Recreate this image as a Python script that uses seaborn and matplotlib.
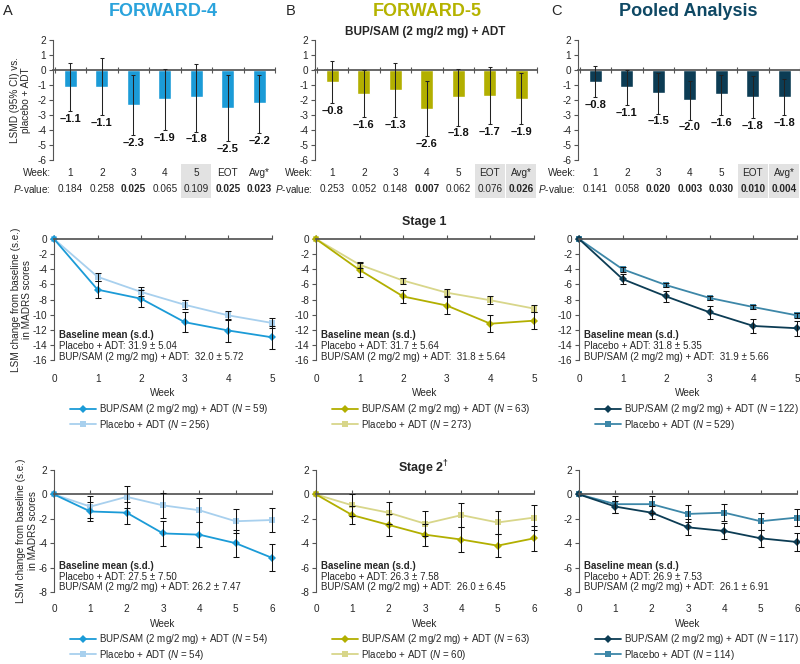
import matplotlib
matplotlib.use('Agg')
import matplotlib.pyplot as plt
import matplotlib.transforms as mtransforms
from matplotlib.patches import Rectangle
from matplotlib.lines import Line2D
import numpy as np
import pandas as pd
import seaborn as sns

sns.set_theme(style='ticks')
plt.rcParams['font.family'] = ['Liberation Sans', 'DejaVu Sans']
plt.rcParams['axes.unicode_minus'] = False
plt.rcParams['mathtext.fontset'] = 'custom'
plt.rcParams['mathtext.rm'] = 'Liberation Sans'
plt.rcParams['mathtext.it'] = 'Liberation Sans:italic'
plt.rcParams['mathtext.bf'] = 'Liberation Sans:bold'

# ---- data ----
bar_labels = ['1', '2', '3', '4', '5', 'EOT', 'Avg*']

f4_lsmd = [-1.1, -1.1, -2.3, -1.9, -1.8, -2.5, -2.2]
f4_lo = [-2.7, -3.0, -4.3, -4.0, -4.1, -4.7, -4.2]
f4_hi = [0.5, 0.8, -0.3, 0.1, 0.4, -0.3, -0.3]
f4_p = ['0.184', '0.258', '0.025', '0.065', '0.109', '0.025', '0.023']
f4_bold = [False, False, True, False, False, True, True]
f4_shade = [4]

f5_lsmd = [-0.8, -1.6, -1.3, -2.6, -1.8, -1.7, -1.9]
f5_lo = [-2.2, -3.1, -3.1, -4.4, -3.7, -3.6, -3.6]
f5_hi = [0.6, 0.0, 0.5, -0.7, 0.1, 0.2, -0.2]
f5_p = ['0.253', '0.052', '0.148', '0.007', '0.062', '0.076', '0.026']
f5_bold = [False, False, False, True, False, False, True]
f5_shade = [5, 6]

pool_lsmd = [-0.8, -1.1, -1.5, -2.0, -1.6, -1.8, -1.8]
pool_lo = [-1.8, -2.3, -2.9, -3.3, -3.0, -3.2, -3.0]
pool_hi = [0.3, 0.0, -0.2, -0.7, -0.3, -0.4, -0.6]
pool_p = ['0.141', '0.058', '0.020', '0.003', '0.030', '0.010', '0.004']
pool_bold = [False, False, True, True, True, True, True]
pool_shade = [5, 6]

s1_weeks = [0, 1, 2, 3, 4, 5]
s2_weeks = [0, 1, 2, 3, 4, 5, 6]

f4_s1_bup = [0, -6.7, -7.9, -11.0, -12.1, -13.0]
f4_s1_bup_se = [0, 1.1, 1.1, 1.3, 1.5, 1.5]
f4_s1_pbo = [0, -5.0, -7.0, -8.7, -10.1, -11.1]
f4_s1_pbo_se = [0, 0.5, 0.6, 0.6, 0.6, 0.7]

f5_s1_bup = [0, -4.1, -7.6, -8.8, -11.2, -10.8]
f5_s1_bup_se = [0, 0.9, 0.9, 1.1, 1.1, 1.1]
f5_s1_pbo = [0, -3.4, -5.5, -7.1, -8.1, -9.2]
f5_s1_pbo_se = [0, 0.4, 0.4, 0.5, 0.5, 0.5]

pool_s1_bup = [0, -5.3, -7.6, -9.7, -11.5, -11.8]
pool_s1_bup_se = [0, 0.7, 0.7, 0.9, 0.9, 1.0]
pool_s1_pbo = [0, -4.0, -6.1, -7.8, -9.0, -10.1]
pool_s1_pbo_se = [0, 0.3, 0.3, 0.3, 0.3, 0.3]

f4_s2_bup = [0, -1.4, -1.5, -3.2, -3.3, -4.0, -5.2]
f4_s2_bup_se = [0, 0.8, 0.9, 1.0, 1.0, 1.1, 1.1]
f4_s2_pbo = [0, -1.0, -0.2, -0.9, -1.3, -2.2, -2.1]
f4_s2_pbo_se = [0, 0.9, 0.9, 1.0, 1.0, 1.0, 1.0]

f5_s2_bup = [0, -1.7, -2.5, -3.3, -3.7, -4.2, -3.6]
f5_s2_bup_se = [0, 0.75, 0.9, 0.9, 1.0, 0.95, 1.0]
f5_s2_pbo = [0, -0.9, -1.5, -2.4, -1.7, -2.3, -1.9]
f5_s2_pbo_se = [0, 0.9, 0.9, 1.0, 1.0, 0.95, 1.0]

pool_s2_bup = [0, -1.0, -1.5, -2.7, -3.0, -3.6, -3.9]
pool_s2_bup_se = [0, 0.5, 0.55, 0.65, 0.65, 0.7, 0.7]
pool_s2_pbo = [0, -0.8, -0.8, -1.6, -1.5, -2.2, -1.9]
pool_s2_pbo_se = [0, 0.7, 0.7, 0.7, 0.7, 0.7, 0.7]

n_s1 = [(59, 256), (63, 273), (122, 529)]
n_s2 = [(54, 54), (63, 60), (117, 114)]

base_s1 = [('31.9 ± 5.04', ' 32.0 ± 5.72'), ('31.7 ± 5.64', ' 31.8 ± 5.64'), ('31.8 ± 5.35', ' 31.9 ± 5.66')]
base_s2 = [('27.5 ± 7.50', '26.2 ± 7.47'), ('26.3 ± 7.58', ' 26.0 ± 6.45'), ('26.9 ± 7.53', ' 26.1 ± 6.91')]

main_colors = ['#1b9bd7', '#b2af00', '#0c3c54']
light_colors = ['#a8d0ee', '#d8d68a', '#3d87a8']
title_colors = ['#2aa3dc', '#b5b300', '#0e4864']
titles = ['FORWARD-4', 'FORWARD-5', 'Pooled Analysis']
letters = ['A', 'B', 'C']

W, H = 800, 664
fig = plt.figure(figsize=(W / 100, H / 100), dpi=100)


def px_axes(left, top, width, height):
    return fig.add_axes([left / W, 1 - (top + height) / H, width / W, height / H])


def fig_text(x, y, s, **kw):
    fig.text(x / W, 1 - y / H, s, **kw)


FS = 7.2
FS_SMALL = 7.0
lefts = [53, 315, 578]

# ---- top bar panels ----
bar_sets = [
    (f4_lsmd, f4_lo, f4_hi, f4_p, f4_bold, f4_shade),
    (f5_lsmd, f5_lo, f5_hi, f5_p, f5_bold, f5_shade),
    (pool_lsmd, pool_lo, pool_hi, pool_p, pool_bold, pool_shade),
]
for k, (vals, lo, hi, pv, bold, shade) in enumerate(bar_sets):
    ax = px_axes(lefts[k], 40, 222, 120)
    sns.barplot(x=bar_labels, y=vals, color=main_colors[k], width=0.42,
                saturation=1, errorbar=None, ax=ax, zorder=2)
    xs = np.arange(len(vals))
    vals_a = np.array(vals)
    ax.errorbar(xs, vals_a, yerr=[vals_a - np.array(lo), np.array(hi) - vals_a],
                fmt='none', ecolor='#222222', elinewidth=0.75, capsize=1.5,
                capthick=0.75, zorder=3)
    for i, v in enumerate(vals):
        ax.text(i, lo[i] - 0.2, '\u2013' + f'{abs(v):.1f}', ha='center', va='top',
                fontsize=8, fontweight='bold', color='#111111')
    ax.set_ylim(-6, 2)
    ax.set_xlim(-0.55, 6.5)
    ax.set_yticks(range(-6, 3))
    ax.set_xticks(np.arange(-0.5, 7, 1))
    ax.spines['top'].set_position(('data', 0))
    ax.spines['top'].set_color('#555555')
    ax.spines['bottom'].set_visible(False)
    ax.spines['right'].set_visible(False)
    ax.spines['left'].set_color('#555555')
    ax.spines['left'].set_linewidth(0.8)
    ax.tick_params(axis='x', top=True, bottom=False, labelbottom=False, labeltop=False,
                   direction='inout', length=5, width=0.8, color='#555555')
    ax.tick_params(axis='y', labelsize=FS, length=3, width=0.8, pad=2, color='#555555')
    ax.set_xlabel('')
    trans = mtransforms.blended_transform_factory(ax.transData, ax.transAxes)
    for i in range(len(vals)):
        if i in shade:
            ax.add_patch(Rectangle((i - 0.47, -0.32), 0.94, 0.29, transform=trans,
                                   facecolor='#e2e2e2', edgecolor='none',
                                   clip_on=False, zorder=0))
        ax.text(i, -0.11, bar_labels[i], transform=trans, ha='center', va='center',
                fontsize=FS)
        ax.text(i, -0.245, pv[i], transform=trans, ha='center', va='center',
                fontsize=FS, fontweight='bold' if bold[i] else 'normal')
    ax.text(-0.01, -0.11, 'Week:', transform=ax.transAxes, ha='right', va='center',
            fontsize=FS)
    ax.text(-0.01, -0.245, '$P$-value:', transform=ax.transAxes, ha='right',
            va='center', fontsize=FS)
    if k == 0:
        ax.set_ylabel('LSMD (95% CI) vs.\nplacebo + ADT', fontsize=FS, labelpad=4,
                      linespacing=1.2)

for k in range(3):
    fig_text([3, 286, 551][k], 11, letters[k], fontsize=10.5, va='center', ha='left')
    fig_text([163, 427, 688][k], 12, titles[k], fontsize=13, fontweight='bold',
             color=title_colors[k], va='center', ha='center')
fig_text(425, 32, 'BUP/SAM (2 mg/2 mg) + ADT', fontsize=8.5, fontweight='bold',
         ha='center', va='center')
fig_text(424, 222, 'Stage 1', fontsize=9, fontweight='bold', ha='center', va='center')
fig_text(423, 468, r'$\mathbf{Stage\ 2}^{\mathbf{\dagger}}$', fontsize=9,
         ha='center', va='center')


# ---- line panels ----
def line_panel(ax, k, weeks, bup, bup_se, pbo, pbo_se, ylim, yticks, ns, base, leg_y,
               base_y, xpad):
    n = len(weeks)
    df = pd.DataFrame({'week': weeks * 2, 'lsm': pbo + bup,
                       'arm': ['PBO'] * n + ['BUP'] * n})
    sns.lineplot(data=df, x='week', y='lsm', hue='arm', style='arm',
                 markers={'BUP': 'D', 'PBO': 's'}, dashes=False,
                 palette={'BUP': main_colors[k], 'PBO': light_colors[k]},
                 markersize=4.5, markeredgewidth=0, linewidth=1.3, legend=False,
                 errorbar=None, ax=ax, zorder=2)
    for ln in ax.lines:
        ln.set_clip_on(False)
    for vals, se in ((pbo, pbo_se), (bup, bup_se)):
        eb = ax.errorbar(weeks[1:], vals[1:], yerr=se[1:], fmt='none', ecolor='#111111',
                         elinewidth=0.75, capsize=2, capthick=0.75, zorder=4)
        for art in eb.get_children():
            art.set_clip_on(False)
    ax.set_xlim(0, weeks[-1])
    ax.set_ylim(*ylim)
    ax.set_yticks(yticks)
    ax.set_xticks(weeks)
    ax.spines['top'].set_position(('data', 0))
    ax.spines['top'].set_color('#555555')
    ax.spines['left'].set_color('#555555')
    ax.spines['left'].set_linewidth(0.8)
    ax.spines['bottom'].set_visible(False)
    ax.spines['right'].set_visible(False)
    ax.tick_params(axis='x', top=True, bottom=False, labelbottom=True, labeltop=False,
                   direction='out', length=3, width=0.8, color='#555555',
                   labelsize=FS, pad=xpad)
    ax.tick_params(axis='y', labelsize=FS, length=3, width=0.8, pad=2, color='#555555')
    ax.set_xlabel('Week', fontsize=FS, labelpad=3)
    if k == 0:
        ax.set_ylabel('LSM change from baseline (s.e.)\nin MADRS scores', fontsize=FS,
                      labelpad=0, linespacing=1.2)
    else:
        ax.set_ylabel('')
    bx = 0.025
    ax.text(bx, base_y[0], 'Baseline mean (s.d.)', transform=ax.transAxes,
            fontsize=FS_SMALL, fontweight='bold', va='center')
    ax.text(bx, base_y[1], 'Placebo + ADT: ' + base[0], transform=ax.transAxes,
            fontsize=FS_SMALL, va='center')
    ax.text(bx, base_y[2], 'BUP/SAM (2 mg/2 mg) + ADT: ' + base[1],
            transform=ax.transAxes, fontsize=FS_SMALL, va='center')
    handles = [
        Line2D([], [], color=main_colors[k], marker='D', markersize=4, lw=1.3,
               markeredgewidth=0),
        Line2D([], [], color=light_colors[k], marker='s', markersize=4, lw=1.3,
               markeredgewidth=0),
    ]
    labels = [f'BUP/SAM (2 mg/2 mg) + ADT ($N$ = {ns[0]})',
              f'Placebo + ADT ($N$ = {ns[1]})']
    ax.legend(handles, labels, loc='upper left', bbox_to_anchor=(0.075, leg_y),
              frameon=False, fontsize=FS_SMALL, borderaxespad=0, borderpad=0,
              handlelength=2.6, handletextpad=0.3, labelspacing=0.15)


s1_sets = [
    (f4_s1_bup, f4_s1_bup_se, f4_s1_pbo, f4_s1_pbo_se),
    (f5_s1_bup, f5_s1_bup_se, f5_s1_pbo, f5_s1_pbo_se),
    (pool_s1_bup, pool_s1_bup_se, pool_s1_pbo, pool_s1_pbo_se),
]
s2_sets = [
    (f4_s2_bup, f4_s2_bup_se, f4_s2_pbo, f4_s2_pbo_se),
    (f5_s2_bup, f5_s2_bup_se, f5_s2_pbo, f5_s2_pbo_se),
    (pool_s2_bup, pool_s2_bup_se, pool_s2_pbo, pool_s2_pbo_se),
]
for k in range(3):
    ax = px_axes(lefts[k] + 1, 239, 218, 121)
    line_panel(ax, k, s1_weeks, *s1_sets[k], (-16, 0), range(-16, 1, 2), n_s1[k],
               base_s1[k], -0.35, (0.21, 0.118, 0.025), 7)
    ax = px_axes(lefts[k] + 1, 470, 218, 122)
    line_panel(ax, k, s2_weeks, *s2_sets[k], (-8, 2), range(-8, 3, 2), n_s2[k],
               base_s2[k], -0.33, (0.213, 0.12, 0.04), 6)

fig.savefig('out.png', dpi=100)
